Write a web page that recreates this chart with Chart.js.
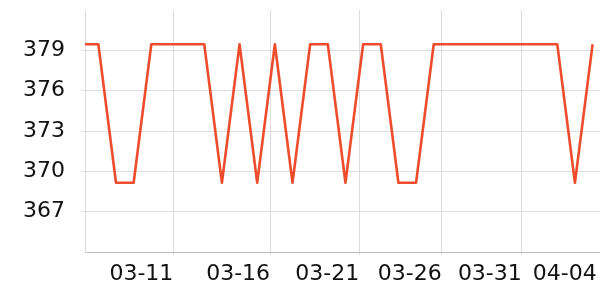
<!DOCTYPE html>
<html>
<head>
<meta charset="utf-8">
<script src="https://cdn.jsdelivr.net/npm/chart.js@4.4.1/dist/chart.umd.min.js"></script>
<style>
  html, body { margin: 0; padding: 0; background: #fff; }
</style>
</head>
<body>
<canvas id="myChart" width="600" height="300"></canvas>
<script>
// one value per point, left to right (first point sits just outside the plot)
const values = [379.45, 379.45, 369.15, 369.15, 379.45, 379.45, 379.45, 379.45, 369.15, 379.45,
                369.15, 379.45, 369.15, 379.45, 379.45, 369.15, 379.45, 379.45, 369.15, 369.15,
                379.45, 379.45, 379.45, 379.45, 379.45, 379.45, 379.45, 379.45, 369.15, 379.45];
const xTickPos = [5.25, 10.73, 15.78, 20.45, 24.99, 29.23];
const xTickLabels = ['03-11', '03-16', '03-21', '03-26', '03-31', '04-04'];
const yTicks = [367, 370, 373, 376, 379];

const tickFont = { family: 'DejaVu Sans', size: 22 };

const ctx = document.getElementById('myChart').getContext('2d');
const myChart = new Chart(ctx, {
    type: 'line',
    data: {
        datasets: [
            {
                data: values.map((v, i) => ({ x: i, y: v })),
                borderColor: '#ee4d2d',
                borderWidth: 2.6,
                borderJoinStyle: 'round',
                pointRadius: 0,
                tension: 0,
                fill: false,
                clip: 0
            }
        ]
    },
    options: {
        responsive: false,
        animation: false,
        devicePixelRatio: 1,
        layout: { padding: { top: 10, right: 0, bottom: 0, left: 0 } },
        plugins: {
            legend: { display: false },
            tooltip: { enabled: false }
        },
        scales: {
            x: {
                type: 'linear',
                min: 0.244,
                max: 29.42,
                afterBuildTicks: s => { s.ticks = xTickPos.map(v => ({ value: v })); },
                afterFit: s => {
                    s.height = 48;
                    s.paddingLeft = 0;
                    s.paddingRight = 0;
                },
                ticks: {
                    align: 'end',
                    autoSkip: false,
                    maxRotation: 0,
                    padding: 6,
                    color: '#111',
                    font: tickFont,
                    callback: (v, i) => xTickLabels[i]
                },
                grid: {
                    color: c => (c.index === xTickPos.length - 1 ? 'rgba(0,0,0,0)' : '#dddddd'),
                    tickLength: 3
                },
                border: { color: '#bbbbbb' }
            },
            y: {
                min: 364,
                max: 382,
                afterBuildTicks: s => { s.ticks = yTicks.map(v => ({ value: v })); },
                afterFit: s => {
                    s.width = 85;
                    s.paddingTop = 0;
                    s.paddingBottom = 0;
                },
                ticks: {
                    padding: 17,
                    color: '#111',
                    font: tickFont
                },
                grid: { color: '#dddddd', tickLength: 3 },
                border: { color: '#dddddd' }
            }
        }
    }
});
</script>
</body>
</html>
